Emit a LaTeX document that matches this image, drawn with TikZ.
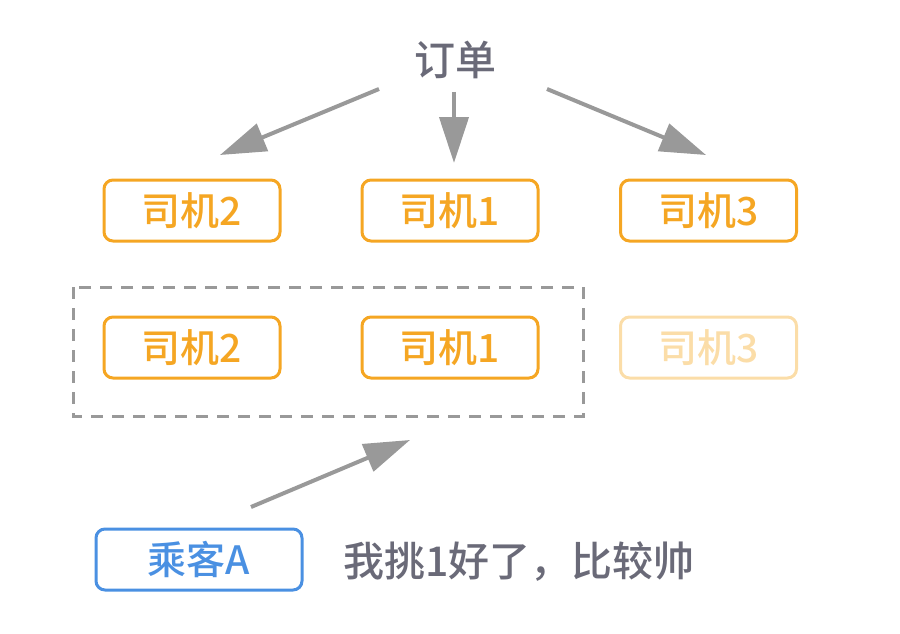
\documentclass[tikz,border=0pt]{standalone}
\usepackage{fontspec}
\setmainfont{Noto Sans CJK SC Medium}
\usetikzlibrary{arrows.meta}
\definecolor{driverorange}{HTML}{F5A623}
\definecolor{fadedorange}{HTML}{FBDDA8}
\definecolor{riderblue}{HTML}{4A90E2}
\definecolor{arrowgray}{HTML}{999999}
\definecolor{textgray}{HTML}{6A6A78}
\tikzset{
  driver/.style={draw=driverorange, text=driverorange, line width=3pt, rounded corners=9pt,
    minimum width=176pt, minimum height=61pt, inner sep=0pt,
    font=\fontsize{39pt}{42pt}\selectfont},
  fadeddriver/.style={driver, draw=fadedorange, text=fadedorange},
  rider/.style={driver, draw=riderblue, text=riderblue, minimum width=206pt},
  flow/.style={draw=arrowgray, line width=4pt, -{Triangle[length=46pt,width=29pt]}},
  group/.style={draw=arrowgray, line width=3pt, dash pattern=on 12pt off 9pt},
  label/.style={text=textgray, inner sep=0pt, font=\fontsize{41pt}{44pt}\selectfont}
}
\begin{document}
\begin{tikzpicture}[x=1pt, y=-1pt]
  \useasboundingbox (0,0) rectangle (900,634);
  % order at the top
  \node[label] (order) at (455,60) {订单};
  % first row of drivers
  \node[driver] (d2a) at (192,210.5) {司机2};
  \node[driver] (d1a) at (450,210.5) {司机1};
  \node[driver] (d3a) at (708.5,210.5) {司机3};
  % second row: the two chosen drivers grouped, the third faded
  \node[driver] (d2b) at (192,347.5) {司机2};
  \node[driver] (d1b) at (450,347.5) {司机1};
  \node[fadeddriver] (d3b) at (708.5,347.5) {司机3};
  \draw[group] (73,287) rectangle (583,416);
  % rider
  \node[rider] (rider) at (199,559.5) {乘客A};
  \node[label, anchor=west] (say) at (343,562) {我挑1好了，比较帅};
  % arrow end points
  \coordinate (oL) at (379,89);
  \coordinate (tL) at (220,155);
  \coordinate (oM) at (454,92);
  \coordinate (tM) at (454,163);
  \coordinate (oR) at (547,89);
  \coordinate (tR) at (706,155);
  \coordinate (rS) at (251,507);
  \coordinate (rT) at (410,440);
  \draw[flow] (oL) -- (tL);
  \draw[flow] (oM) -- (tM);
  \draw[flow] (oR) -- (tR);
  \draw[flow] (rS) -- (rT);
\end{tikzpicture}
\end{document}
